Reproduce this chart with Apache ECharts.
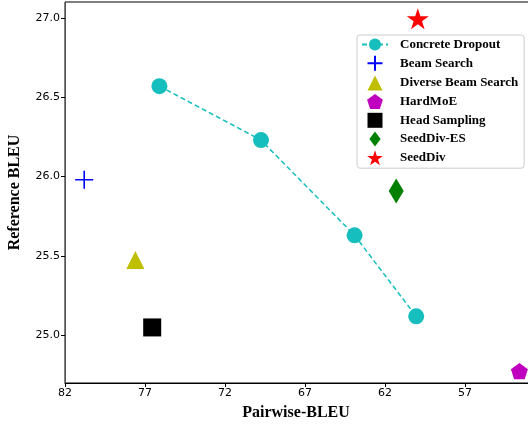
<!DOCTYPE html>
<html><head><meta charset="utf-8">
<script src="https://cdn.jsdelivr.net/npm/echarts@6/dist/echarts.min.js"></script>
<style>html,body{margin:0;padding:0;background:#fff}#c{width:528px;height:425px}</style>
</head><body><div id="c"></div>
<script>
const concreteX = [76.1, 69.75, 63.9, 60.05];
const concreteY = [26.57, 26.23, 25.63, 25.12];
const beamSearch = [80.8, 25.98];
const diverseBeam = [77.6, 25.475];
const hardMoE = [53.6, 24.775];
const headSampling = [76.55, 25.05];
const seedDivES = [61.3, 25.91];
const seedDiv = [59.95, 26.995];
const yTicks = [25.0, 25.5, 26.0, 26.5, 27.0];

const starPath = 'path://M0,-1 L0.2245,-0.309 L0.951,-0.309 L0.363,0.118 L0.588,0.809 L0,0.382 L-0.588,0.809 L-0.363,0.118 L-0.951,-0.309 L-0.2245,-0.309 Z';
const pentPath = 'path://M0,-1 L0.951,-0.309 L0.588,0.809 L-0.588,0.809 L-0.951,-0.309 Z';
const plusPath = 'path://M0,-1 L0,1 M-1,0 L1,0';
const triPath = 'path://M0,-1 L1,1 L-1,1 Z';
const rectPath = 'path://M-1,-1 L1,-1 L1,1 L-1,1 Z';
const diaPath = 'path://M0,-1 L0.75,0 L0,1 L-0.75,0 Z';

const chart = echarts.init(document.getElementById('c'));
const tickFont = {fontFamily: 'DejaVu Sans', fontSize: 11, color: '#000'};
chart.setOption({
  animation: false,
  grid: {left: 65, top: 2, width: 480, height: 381, show: true, borderColor: '#000', borderWidth: 1,
         containLabel: false, outerBoundsMode: 'none'},
  xAxis: {
    type: 'value', inverse: true, min: 52, max: 82, interval: 5,
    name: 'Pairwise-BLEU', nameLocation: 'middle', nameGap: 22,
    nameTextStyle: {fontFamily: 'Liberation Serif', fontWeight: 'bold', fontSize: 16, color: '#000', padding: [0, 18, 0, 0]},
    axisLine: {lineStyle: {color: '#000'}},
    axisTick: {length: 4, inside: false, lineStyle: {color: '#000'}},
    axisLabel: Object.assign({margin: 5}, tickFont),
    splitLine: {show: false}
  },
  yAxis: {
    type: 'value', min: 24.7, max: 27.1,
    name: 'Reference BLEU', nameLocation: 'middle', nameGap: 42,
    nameTextStyle: {fontFamily: 'Liberation Serif', fontWeight: 'bold', fontSize: 16, color: '#000'},
    axisLine: {lineStyle: {color: '#555'}},
    axisTick: {length: 4, lineStyle: {color: '#000'}, customValues: yTicks},
    axisLabel: Object.assign({margin: 5, customValues: yTicks, formatter: v => v.toFixed(1)}, tickFont),
    splitLine: {show: false}
  },
  legend: {
    orient: 'vertical', left: 357, top: 35,
    padding: [3, 6, 3, 4], itemGap: 3.7, itemWidth: 26, itemHeight: 15,
    symbolKeepAspect: true,
    borderColor: '#ccc', borderWidth: 1, borderRadius: 3, backgroundColor: '#fff',
    textStyle: {fontFamily: 'Liberation Serif', fontWeight: 'bold', fontSize: 13, color: '#000', padding: [0, 0, 0, 7]},
    data: ['Concrete Dropout', 'Beam Search', 'Diverse Beam Search', 'HardMoE', 'Head Sampling', 'SeedDiv-ES', 'SeedDiv']
  },
  series: [
    {name: 'Concrete Dropout', type: 'line', data: concreteX.map((x, i) => [x, concreteY[i]]),
     symbol: 'circle', symbolSize: 16, lineStyle: {color: '#17BEBE', type: [5, 3], width: 1.5},
     itemStyle: {color: '#17BEBE', opacity: 1}},
    {name: 'Beam Search', type: 'scatter', data: [beamSearch], symbol: plusPath, symbolSize: 18, symbolKeepAspect: true,
     itemStyle: {color: '#0000FF', borderColor: '#0000FF', borderWidth: 1.6, opacity: 1}},
    {name: 'Diverse Beam Search', type: 'scatter', data: [diverseBeam], symbol: triPath, symbolSize: 18, symbolKeepAspect: true,
     itemStyle: {color: '#BFBF00', opacity: 1}},
    {name: 'HardMoE', type: 'scatter', data: [hardMoE], symbol: pentPath, symbolSize: 17, symbolKeepAspect: true,
     itemStyle: {color: '#BF00BF', opacity: 1}},
    {name: 'Head Sampling', type: 'scatter', data: [headSampling], symbol: rectPath, symbolSize: 18, symbolKeepAspect: true,
     itemStyle: {color: '#000', opacity: 1}},
    {name: 'SeedDiv-ES', type: 'scatter', data: [seedDivES], symbol: diaPath, symbolSize: [15, 25],
     itemStyle: {color: '#008000', opacity: 1}},
    {name: 'SeedDiv', type: 'scatter', data: [seedDiv], symbol: starPath, symbolSize: 22, symbolKeepAspect: true,
     itemStyle: {color: '#FF0000', opacity: 1}}
  ]
});
</script></body></html>
